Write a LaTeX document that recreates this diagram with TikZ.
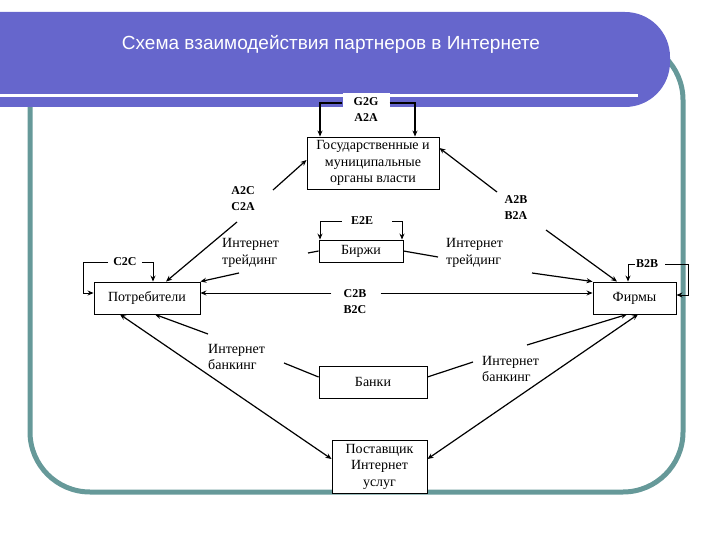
\documentclass[tikz,border=0pt]{standalone}
\usepackage{fontspec}
\setmainfont{Liberation Serif}
\newfontfamily\titlefont{Liberation Sans}
\usetikzlibrary{arrows.meta}
\definecolor{bannerblue}{RGB}{102,102,204}
\definecolor{frameteal}{RGB}{102,153,153}
\tikzset{
  box/.style={draw, line width=0.9pt, fill=white, align=center, inner sep=0pt,
    font=\fontsize{14}{16.5}\selectfont},
  lab/.style={font=\bfseries\fontsize{12}{16}\selectfont, align=center, inner sep=0pt},
  txt/.style={font=\fontsize{14}{16.5}\selectfont, align=left, inner sep=0pt, anchor=west},
  tip/.style={-{Stealth[length=6pt,width=5pt]}},
  conn/.style={line width=1.2pt},
  thinline/.style={line width=0.9pt},
  heavy/.style={line width=1.8pt},
}
\begin{document}
\begin{tikzpicture}[x=1pt,y=-1pt]
\useasboundingbox (0,0) rectangle (720,540);
% frame
\draw[frameteal, line width=5pt, rounded corners=60pt] (30,40) rectangle (683,492);
% banner
\fill[bannerblue, rounded corners=45pt] (-80,12) rectangle (670,107);
\fill[white] (-5,94) rectangle (638,97);
\node[font=\titlefont\fontsize{19}{21}\selectfont, text=white] (title) at (331,44) {Схема взаимодействия партнеров в Интернете};

% boxes
\node[box, minimum width=132pt, minimum height=52pt] (gov) at (373,163) {Государственные и\\муниципальные\\органы власти};
\node[box, minimum width=84pt, minimum height=22pt] (birzhi) at (361,251) {Биржи};
\node[box, minimum width=106pt, minimum height=32pt] (potr) at (147,298) {Потребители};
\node[box, minimum width=83pt, minimum height=32pt] (firmy) at (634.5,298) {Фирмы};
\node[box, minimum width=108pt, minimum height=32pt] (banki) at (373,382) {Банки};
\node[box, minimum width=95pt, minimum height=53pt] (post) at (379.5,466.5) {Поставщик\\Интернет\\услуг};

% labels
\node[lab, fill=white, minimum width=47pt, minimum height=34pt] (g2g) at (366,110) {G2G\\A2A};
\node[lab] (a2c) at (243,199) {A2C\\C2A};
\node[lab] (a2b) at (516,208) {A2B\\B2A};
\node[lab] (e2e) at (362,221) {E2E};
\node[lab] (c2c) at (125,262) {C2C};
\node[lab] (c2b) at (355,302) {C2B\\B2C};
\node[lab] (b2b) at (647,264) {B2B};
\node[txt] (it1) at (222,253) {Интернет\\трейдинг};
\node[txt] (it2) at (446,253) {Интернет\\трейдинг};
\node[txt] (ib1) at (208,357) {Интернет\\банкинг};
\node[txt] (ib2) at (482,369) {Интернет\\банкинг};

% free ends
\coordinate (ca2cup) at (273,190);
\coordinate (ca2cdn) at (237,222);
\coordinate (ca2bup) at (497,192);
\coordinate (ca2bdn) at (546,230);
\coordinate (cbp1) at (308,253);
\coordinate (cbp2) at (239,273);
\coordinate (cbf1) at (438,257);
\coordinate (cbf2) at (532,273);
\coordinate (ckp1) at (284,363);
\coordinate (ckp2) at (208,334);
\coordinate (ckf1) at (473,362);
\coordinate (ckf2) at (527,345);

% G2G loop
\draw[heavy, tip] ([yshift=7pt]g2g.west) -| ([xshift=-53pt]gov.north);
\draw[heavy, tip] ([yshift=7pt]g2g.east) -| ([xshift=42pt]gov.north);
% E2E loop
\draw[thinline, tip] ([xshift=-9pt]e2e.west) -| ([xshift=-41pt]birzhi.north);
\draw[thinline, tip] ([xshift=19pt]e2e.east) -| ([xshift=41pt]birzhi.north);
% C2C loop
\draw[thinline, tip] ([xshift=5pt]c2c.east) -| ([xshift=6pt]potr.north);
\draw[thinline, tip] ([xshift=-5pt]c2c.west) -- ++(-25pt,0pt) |- ([yshift=5pt]potr.west);
% B2B loop
\draw[thinline, tip] ([xshift=-1pt]b2b.west) -| ([xshift=-6.5pt]firmy.north);
\draw[thinline, tip] ([xshift=7pt]b2b.east) -- ++(23pt,0pt) |- ([yshift=3pt]firmy.east);
% C2B / B2C
\draw[thinline, tip] ([shift={(-12pt,9pt)}]c2b.west) -- ([yshift=5pt]potr.east);
\draw[thinline, tip] ([shift={(14pt,9pt)}]c2b.east) -- ([yshift=5pt]firmy.west);
% A2C / C2A
\draw[conn, tip] (ca2cup) -- ([yshift=3pt]gov.west);
\draw[conn, tip] (ca2cdn) -- ([xshift=19pt]potr.north);
% A2B / B2A
\draw[conn, tip] (ca2bup) -- ([yshift=15pt]gov.east);
\draw[conn, tip] (ca2bdn) -- ([xshift=-17.5pt]firmy.north);
% trading
\draw[conn] (birzhi.west) -- (cbp1);
\draw[conn, tip] (cbp2) -- (potr.north east);
\draw[conn] (birzhi.east) -- (cbf1);
\draw[conn, tip] (cbf2) -- (firmy.north west);
% banking
\draw[conn] ([yshift=5pt]banki.west) -- (ckp1);
\draw[conn, tip] (ckp2) -- ([xshift=8pt]potr.south);
\draw[conn] ([yshift=5pt]banki.east) -- (ckf1);
\draw[conn, tip] (ckf2) -- ([xshift=-7.5pt]firmy.south);
% provider
\draw[conn, {Stealth[length=6pt,width=5pt]}-{Stealth[length=6pt,width=5pt]}] ([xshift=-27pt]potr.south) -- ([yshift=7.5pt]post.west);
\draw[conn, {Stealth[length=6pt,width=5pt]}-{Stealth[length=6pt,width=5pt]}] ([xshift=3.5pt]firmy.south) -- ([yshift=7.5pt]post.east);
\end{tikzpicture}
\end{document}
